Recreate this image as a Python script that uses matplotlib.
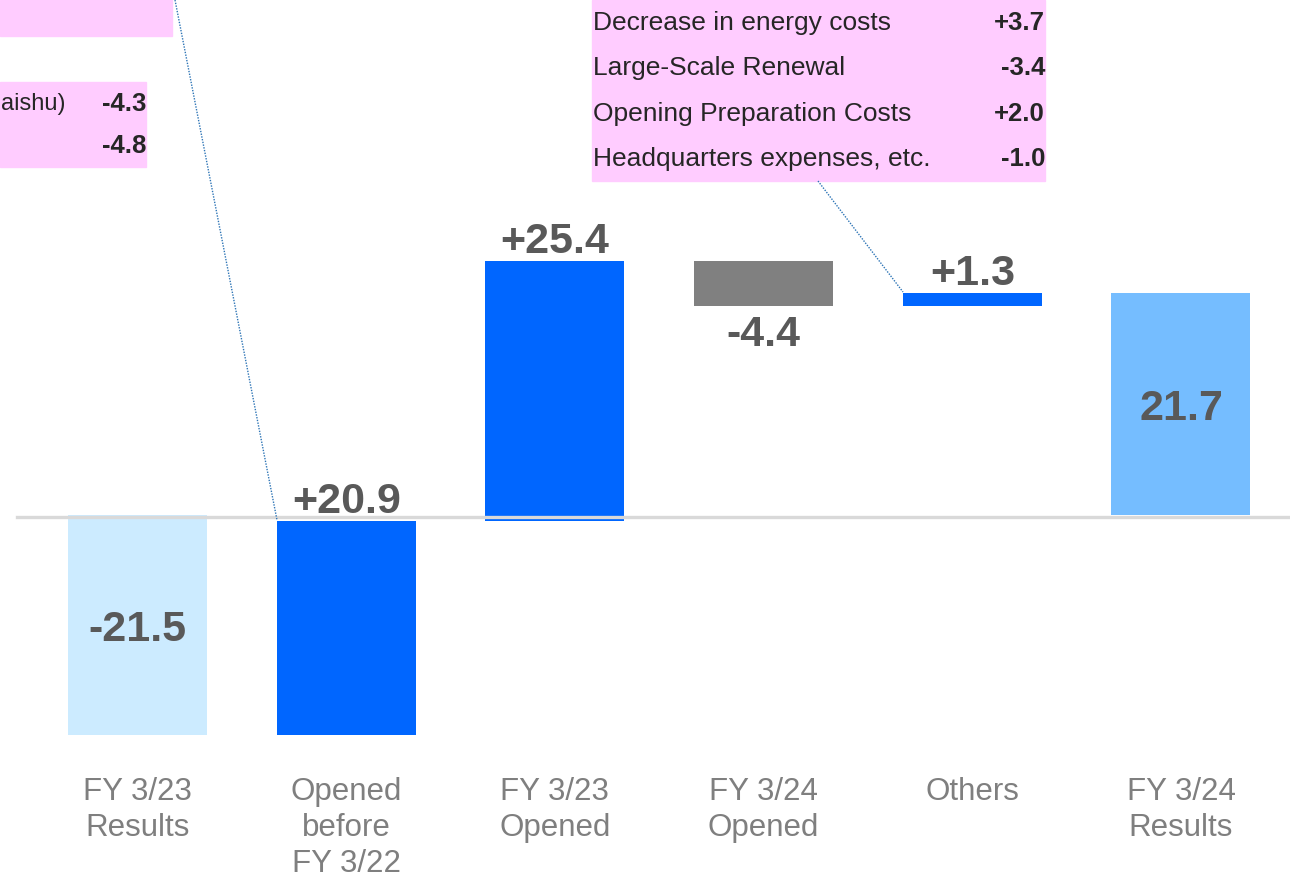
import matplotlib
matplotlib.use("Agg")
import matplotlib.pyplot as plt
from matplotlib.patches import Rectangle
from matplotlib.lines import Line2D

# ---- data ----
categories = ["FY 3/23\nResults", "Opened\nbefore\nFY 3/22", "FY 3/23\nOpened",
              "FY 3/24\nOpened", "Others", "FY 3/24\nResults"]
values = [-21.5, 20.9, 25.4, -4.4, 1.3, 21.7]
value_labels = ["-21.5", "+20.9", "+25.4", "-4.4", "+1.3", "21.7"]
kinds = ["total", "delta", "delta", "delta", "delta", "total"]
bar_colors = ["#CCEBFF", "#0066FF", "#0066FF", "#808080", "#0066FF", "#75BDFF"]

right_box_items = ["Decrease in energy costs", "Large-Scale Renewal",
                   "Opening Preparation Costs", "Headquarters expenses, etc."]
right_box_values = ["+3.7", "-3.4", "+2.0", "-1.0"]
left_box_items = ["aishu)", ""]
left_box_values = ["-4.3", "-4.8"]

W, H = 1290, 877
plt.rcParams['font.family'] = ['Liberation Sans', 'DejaVu Sans']
fig = plt.figure(figsize=(W / 100, H / 100), dpi=100)
ax = fig.add_axes([0, 0, 1, 1])
ax.set_xlim(-0.6588, 5.5223)
ax.set_ylim(-35.39, 50.34)
ax.axis("off")

# waterfall geometry
bottoms, heights = [], []
run = 0.0
for v, k in zip(values, kinds):
    if k == "total":
        bottoms.append(0.0)
        heights.append(v)
        run = v
    else:
        bottoms.append(run)
        heights.append(v)
        run += v

xs = list(range(len(values)))
ax.bar(xs, heights, bottom=bottoms, width=0.666, color=bar_colors, zorder=2)

# baseline
ax.axhline(-0.2, xmin=17 / W, xmax=1.0, color="#D9D9D9", lw=2.4, zorder=3)

# value labels
off = 2.35
shift = -0.5
for x, b, h, k, lab in zip(xs, bottoms, heights, kinds, value_labels):
    if k == "total":
        y = b + h / 2
    elif h >= 0:
        y = b + h + off
    else:
        y = b + h - off
    ax.text(x, y + shift, lab, ha="center", va="center", fontsize=31,
            fontweight="bold", color="#595959", zorder=4)

# category labels
for x, c in zip(xs, categories):
    ax.text(x, -25.6, c, ha="center", va="top", fontsize=22.5,
            color="#7F7F7F", linespacing=1.26)


def fx(px):
    return px / W


def fy(py):
    return 1 - py / H


pink = "#FFCCFF"
# right box
fig.add_artist(Rectangle((fx(592), fy(181)), fx(1045) - fx(592), fy(0) - fy(181),
                         transform=fig.transFigure, color=pink, zorder=1))
for i, (t, v) in enumerate(zip(right_box_items, right_box_values)):
    yy = 23 + i * 45.3
    fig.text(fx(593), fy(yy), t, ha="left", va="center", fontsize=19, color="#262626")
    fig.text(fx(1045), fy(yy), v, ha="right", va="center", fontsize=18.5,
             fontweight="bold", color="#262626")

# left boxes
fig.add_artist(Rectangle((fx(0), fy(36)), fx(172), fy(0) - fy(36),
                         transform=fig.transFigure, color=pink, zorder=1))
fig.add_artist(Rectangle((fx(0), fy(167)), fx(146), fy(82) - fy(167),
                         transform=fig.transFigure, color=pink, zorder=1))
for i, (t, v) in enumerate(zip(left_box_items, left_box_values)):
    yy = 104 + i * 42
    if t:
        fig.text(fx(0.5), fy(yy), t, ha="left", va="center", fontsize=17, color="#262626")
    fig.text(fx(146), fy(yy), v, ha="right", va="center", fontsize=18.5,
             fontweight="bold", color="#262626")

# dotted connectors
fig.add_artist(Line2D([fx(175), fx(277)], [fy(0), fy(520)], transform=fig.transFigure,
                      color="#2E75B6", lw=1.0, ls=(0, (1, 1))))
fig.add_artist(Line2D([fx(818), fx(903)], [fy(181), fy(292)], transform=fig.transFigure,
                      color="#2E75B6", lw=1.0, ls=(0, (1, 1))))

fig.savefig("out.png", dpi=100)
